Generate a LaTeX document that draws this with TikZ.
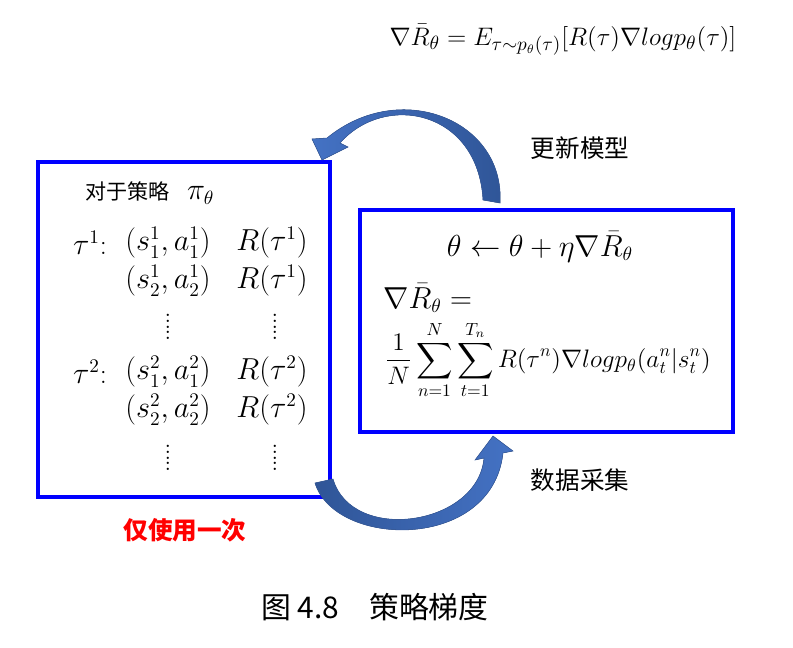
\documentclass[tikz,border=0pt]{standalone}
\usepackage{amsmath}
\usepackage{fontspec}
\newfontfamily\cjk{Noto Sans CJK SC}
\begin{document}
\begin{tikzpicture}[x=0.02cm,y=-0.02cm,
  boxs/.style={draw=blue,line width=2.6pt},
  txt/.style={inner sep=0,font=\fontsize{16}{19}\selectfont},
  vd/.style={inner sep=0,font=\fontsize{16}{19}\selectfont,align=center},
  ]
\useasboundingbox (0,0) rectangle (793,647);
\definecolor{ablue}{HTML}{4472C4}\definecolor{dblue}{HTML}{2F5597}
\newcommand\vdts{$\vcenter{\baselineskip=3.3pt\hbox{.}\hbox{.}\hbox{.}\hbox{.}\hbox{.}}$}
\draw[boxs] (38,162) rectangle (330,497);
\draw[boxs] (360,210) rectangle (733,432);
% arrows
\fill[left color=ablue,right color=dblue,draw=ablue!80!black,line width=0.3pt]
 (500,203) .. controls (505,120) and (400,78) .. (327,138) -- (312,139) -- (322,160) -- (348,147) -- (340,143) .. controls (385,92) and (478,110) .. (483,200) -- cycle;
\fill[left color=dblue,right color=ablue,draw=ablue!80!black,line width=0.3pt]
 (315,483) .. controls (335,548) and (492,552) .. (503,453) -- (513,451) -- (493,436) -- (475,460) -- (484,458) .. controls (478,526) and (352,544) .. (333,479) -- cycle;
\node[txt,font=\fontsize{15}{18}\selectfont] (f) at (563,40) {$\nabla\bar{R}_\theta=E_{\tau\sim p_\theta(\tau)}[R(\tau)\nabla log p_\theta(\tau)]$};
\node[txt,font=\cjk\fontsize{14}{17}\selectfont] (u) at (580,148) {更新模型};
\node[txt,font=\cjk\fontsize{14}{17}\selectfont] (d) at (580,480) {数据采集};
\node[txt,font=\cjk\bfseries\fontsize{14}{17}\selectfont,text=red] (o) at (185,530) {仅使用一次};
\node[txt,font=\cjk\fontsize{17}{20}\selectfont] (c) at (375,607) {图 4.8\quad 策略梯度};
\node[txt] (h) at (150,193) {{\cjk\fontsize{12}{14}\selectfont 对于策略}\ \ $\pi_\theta$};
\node[txt] (t1) at (90,243) {$\tau^1$:};
\node[txt] (p1) at (168,243) {$(s_1^1,a_1^1)$};
\node[txt] (r1) at (272,243) {$R(\tau^1)$};
\node[txt] (p2) at (168,281) {$(s_2^1,a_2^1)$};
\node[txt] (r2) at (272,281) {$R(\tau^1)$};
\node[vd] (v1) at (168,327) {\vdts};
\node[vd] (v2) at (275,327) {\vdts};
\node[txt] (t2) at (90,372) {$\tau^2$:};
\node[txt] (p3) at (168,372) {$(s_1^2,a_1^2)$};
\node[txt] (r3) at (272,372) {$R(\tau^2)$};
\node[txt] (p4) at (168,410) {$(s_2^2,a_2^2)$};
\node[txt] (r4) at (272,410) {$R(\tau^2)$};
\node[vd] (v3) at (168,458) {\vdts};
\node[vd] (v4) at (275,458) {\vdts};
\node[txt] (e1) at (540,247) {$\theta\leftarrow\theta+\eta\nabla\bar{R}_\theta$};
\node[txt,anchor=west] (e2) at (383,298) {$\nabla\bar{R}_\theta=$};
\node[txt,font=\fontsize{14}{17}\selectfont] (e3) at (548,360) {$\displaystyle\frac{1}{N}\sum_{n=1}^{N}\sum_{t=1}^{T_n}R(\tau^n)\nabla log p_\theta(a_t^n|s_t^n)$};
\end{tikzpicture}
\end{document}
